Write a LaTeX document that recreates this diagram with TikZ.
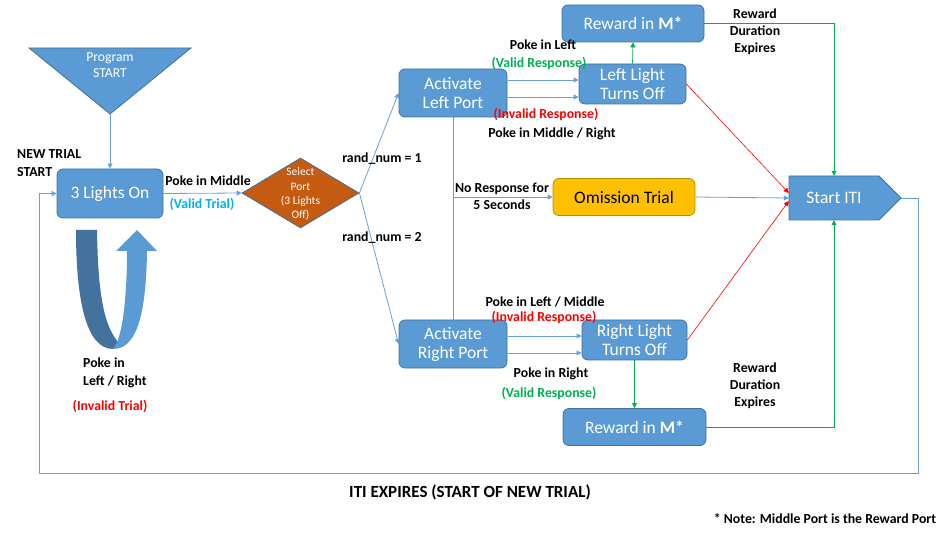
\documentclass[tikz,border=0pt]{standalone}
\usepackage{fontspec}
\setmainfont{Carlito}
\usetikzlibrary{arrows.meta,shapes.geometric,calc}
\definecolor{nodeblue}{HTML}{5B9BD5}
\definecolor{nodeborder}{HTML}{41719C}
\definecolor{linkblue}{HTML}{6A9FD6}
\definecolor{omfill}{HTML}{FFC000}
\definecolor{omborder}{HTML}{BC8C00}
\definecolor{selfill}{HTML}{C55A11}
\definecolor{okgreen}{HTML}{00B050}
\definecolor{badred}{HTML}{FF0000}
\definecolor{trialblue}{HTML}{00B0F0}
\definecolor{darkband}{HTML}{44729F}
\begin{document}
\begin{tikzpicture}[x=1pt,y=-1pt,
  box/.style={draw=nodeborder, fill=nodeblue, rounded corners=6pt, text=white,
    font=\fontsize{17.5}{19}\selectfont, align=center, line width=0.8pt, inner sep=0pt},
  lbl/.style={font=\bfseries\fontsize{13.8}{17}\selectfont, align=center, inner sep=0pt},
  conn/.style={draw=linkblue, line width=0.8pt, -{Triangle[length=5pt,width=5pt]}},
  plain/.style={draw=linkblue, line width=0.8pt},
  gconn/.style={draw=okgreen, line width=0.7pt, -{Triangle[length=5pt,width=5pt]}},
  rconn/.style={draw=badred, line width=0.6pt, -{Triangle[length=5pt,width=5pt]}}]
\useasboundingbox (0,0) rectangle (950,534);

% Program START triangle
\draw[fill=nodeblue, draw=nodeborder, line width=0.8pt] (29,48) -- (191,48) -- (110,114) -- cycle;
\node[text=white, font=\fontsize{13.7}{16}\selectfont, align=center, inner sep=0pt] (prog) at (110,65) {Program\\START};
\coordinate (progtip) at (110,114);

% nodes
\node[box, minimum width=106pt, minimum height=49pt] (lights) at (110,193.5) {3 Lights On};
\node[diamond, draw=nodeborder, fill=selfill, line width=0.8pt, inner sep=0pt,
      minimum width=117pt, minimum height=70pt] (sel) at (300.5,193) {};
\node[text=white, font=\fontsize{11.5}{14.3}\selectfont, align=center, inner sep=0pt] (seltext) at (300.5,194) {Select\\Port\\(3 Lights\\Off)};
\node[box, minimum width=108pt, minimum height=48pt] (actl) at (453,93) {Activate\\Left Port};
\node[box, minimum width=108pt, minimum height=48pt] (actr) at (453,344) {Activate\\Right Port};
\node[box, minimum width=107pt, minimum height=40pt] (ll) at (632.5,84) {Left Light\\Turns Off};
\node[box, minimum width=105pt, minimum height=40pt] (rl) at (634.5,340) {Right Light\\Turns Off};
\node[box, minimum width=142pt, minimum height=37pt] (rwt) at (633,23.5) {Reward in \textbf{M*}};
\node[box, minimum width=143pt, minimum height=37pt] (rwb) at (634.5,427) {Reward in \textbf{M*}};
\node[box, draw=omborder, fill=omfill, text=black, minimum width=142pt, minimum height=37pt] (om) at (624,197) {Omission Trial};

% Start ITI pentagon
\draw[fill=nodeblue, draw=nodeborder, line width=0.8pt] (789,176) -- (879,176) -- (901,198) -- (879,220) -- (789,220) -- cycle;
\node[text=white, font=\fontsize{17.5}{19}\selectfont, inner sep=0pt, minimum width=90pt, minimum height=44pt] (iti) at (834,198) {Start ITI};
\coordinate (itip) at (901,198);

% U-turn arrow
\fill[darkband] (76,230) -- (97,230) .. controls (98,295) and (104,325) .. (118,342) -- (113,349) .. controls (86,349) and (76,300) .. (76,230) -- cycle;
\fill[nodeblue] (137,230) -- (157,251) -- (147,251) .. controls (146,320) and (135,349) .. (113,349) .. controls (122,340) and (127,300) .. (127,251) -- (116,251) -- cycle;

% connectors
\draw[conn] (progtip) -- (lights.north);
\draw[conn] (lights.east) -- (sel.west);
\draw[conn] (sel.east) -- (actl.west);
\draw[conn] (sel.east) -- (actr.west);
\draw[conn] ($(actl.east)+(1,-13)$) -- ($(ll.west)+(0,-4)$);
\draw[conn] ($(actl.east)+(1,4)$) -- ($(ll.west)+(0,13)$);
\draw[conn] ($(actr.east)+(1,-8)$) -- ($(rl.west)+(0,-4)$);
\draw[conn] ($(actr.east)+(1,9)$) -- ($(rl.west)+(0,13)$);
\draw[plain] (actl.south) -- (actr.north);
\coordinate (omfork) at (453,197);
\draw[conn] (omfork) -- (om.west);
\draw[conn] (om.east) -- (iti.west);
\draw[gconn] (ll.north) -- (rwt.south);
\draw[gconn] (rl.south) -- (rwb.north);
\draw[gconn] (rwt.east) -| (iti.north);
\draw[gconn] (rwb.east) -| (iti.south);
\draw[rconn] (ll.east) -- ($(iti.west)+(0,-5)$);
\draw[rconn] (rl.east) -- ($(iti.west)+(0,3)$);
\draw[conn] (itip) -- (918,198) -- (918,473) -- (39,473) -- (39,193.5) -- (lights.west);

% labels
\node[lbl, align=left, anchor=west, font=\bfseries\fontsize{13.8}{18}\selectfont] (newtrial) at (17,163) {NEW TRIAL\\START};
\node[lbl] (pim) at (208,181) {Poke in Middle};
\node[lbl, text=trialblue] (vt) at (202,204) {(Valid Trial)};
\node[lbl] (r1) at (382,159) {rand\_num = 1};
\node[lbl] (r2) at (382,238) {rand\_num = 2};
\node[lbl] (pil) at (543,45) {Poke in Left};
\node[lbl, text=okgreen] (vr1) at (539,63) {(Valid Response)};
\node[lbl, text=badred] (ir1) at (546,114) {(Invalid Response)};
\node[lbl] (pimr) at (552,134) {Poke in Middle / Right};
\node[lbl] (nor) at (502,196.5) {No Response for\\5 Seconds};
\node[lbl] (rde1) at (755,32) {Reward\\Duration\\Expires};
\node[lbl] (rde2) at (755,386) {Reward\\Duration\\Expires};
\node[lbl] (pilm) at (545,302) {Poke in Left / Middle};
\node[lbl, text=badred] (ir2) at (544,317) {(Invalid Response)};
\node[lbl] (pir) at (551,374) {Poke in Right};
\node[lbl, text=okgreen] (vr2) at (549,393) {(Valid Response)};
\node[lbl, align=left, anchor=west, font=\bfseries\fontsize{13.8}{18}\selectfont] (pilr) at (83,373) {Poke in\\Left / Right};
\node[lbl, text=badred] (it) at (110,406) {(Invalid Trial)};
\node[lbl, font=\bfseries\fontsize{17}{20}\selectfont] (itiexp) at (470,492) {ITI EXPIRES (START OF NEW TRIAL)};
\node[lbl] (note) at (825,519) {* Note: Middle Port is the Reward Port};
\end{tikzpicture}
\end{document}
